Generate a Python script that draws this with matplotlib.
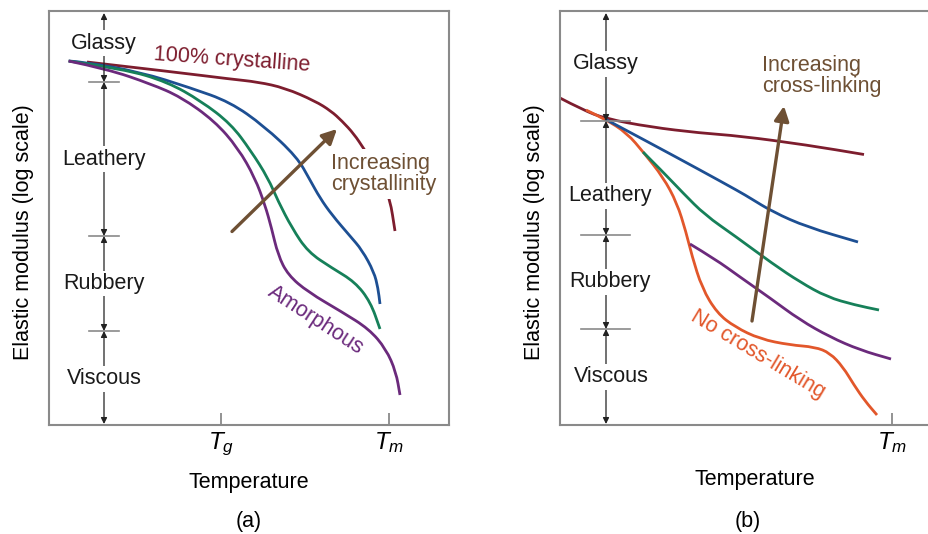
import matplotlib.pyplot as plt
from matplotlib.path import Path
from matplotlib.patches import PathPatch

plt.rcParams["font.family"] = ["Liberation Sans", "DejaVu Sans"]
plt.rcParams["mathtext.fontset"] = "custom"
plt.rcParams["mathtext.it"] = "Liberation Sans:italic"
plt.rcParams["mathtext.rm"] = "Liberation Sans"

# schematic curves, temperature / log-modulus in arbitrary units
# (a) crystallinity series, box is 400 x 414 units
a_cryst_t = [38, 125, 181, 209, 236, 266, 282, 293, 305, 315, 324, 333, 341, 346]
a_cryst_m = [363, 353, 346, 343, 337, 324, 314, 304, 291, 276, 262, 245, 226, 194]
a_blue_t = [20, 35, 91, 142, 181, 215, 248, 261, 271, 283, 301, 313, 325, 329, 331]
a_blue_m = [364, 363, 353, 337, 323, 299, 268, 245, 227, 210, 189, 175, 153, 137, 121]
a_green_t = [19.5, 75, 118.5, 152, 182, 202, 219, 229, 243, 259, 283, 306, 321.5, 331]
a_green_m = [364, 356, 343, 324, 301, 274, 247, 224, 197, 173, 157, 143, 123, 96]
a_amorph_t = [19.5, 58, 102, 132, 165.5, 189, 206, 216, 222.5, 229, 239, 259, 293, 320, 337, 347, 351]
a_amorph_m = [364, 356, 341, 328, 304, 277, 247, 220, 197, 170, 150, 133, 113, 96, 76, 53, 30]
a_ticks = [172, 340]
a_ticklabels = ["$T_g$", "$T_m$"]

# (b) cross-linking series
b_high_t = [0, 23, 45, 90, 140, 180, 247, 304]
b_high_m = [327, 315, 306.5, 298, 292, 289, 280, 270.5]
b_blue_t = [45, 90, 140, 180, 190, 213, 247, 298]
b_blue_m = [306, 282, 255, 233, 227, 213, 198, 183]
b_green_t = [83, 103, 123, 145, 175, 213, 240, 267, 295, 319]
b_green_m = [273, 253, 232, 210, 189, 161, 143, 128, 120, 115]
b_purple_t = [130, 155, 180, 210, 240, 270, 300, 331]
b_purple_m = [181, 166, 148, 127, 105, 88, 75, 66]
b_none_t = [26, 45, 67, 84, 103, 117, 126, 132, 142, 157, 175, 200, 230, 255, 270, 283, 294, 305, 317]
b_none_m = [315, 306, 292, 272, 248, 222, 193, 169, 137, 112, 98, 86, 80, 78, 72, 58, 40, 24, 10]
b_ticks = [332]
b_ticklabels = ["$T_m$"]

regions = ["Glassy", "Leathery", "Rubbery", "Viscous"]
a_bounds = [412, 343, 189, 94, 1]
b_bounds = [412, 304, 190, 96, 1]

RED = "#7d1d2e"
BLUE = "#1d4f93"
GREEN = "#168059"
PURPLE = "#6b2a7c"
ORANGE = "#e2572b"
BROWN = "#6e5034"
GREY = "#8a8a8a"
FS = 15.5

W, H = 929, 534
fig = plt.figure(figsize=(W / 100, H / 100), dpi=100)
ax_a = fig.add_axes([49 / W, 109 / H, 400 / W, 414 / H])
ax_b = fig.add_axes([560 / W, 109 / H, 390 / W, 414 / H])


def curve(ax, t, m, color):
    # quadratic Bezier through the midpoints -> smooth hand-drawn look
    pts = list(zip(t, m))
    verts = [pts[0]]
    codes = [Path.MOVETO]
    for i in range(1, len(pts) - 1):
        mid = ((pts[i][0] + pts[i + 1][0]) / 2, (pts[i][1] + pts[i + 1][1]) / 2)
        verts += [pts[i], mid]
        codes += [Path.CURVE3, Path.CURVE3]
    verts.append(pts[-1])
    codes.append(Path.LINETO)
    ax.add_patch(PathPatch(Path(verts, codes), fill=False, edgecolor=color,
                           lw=2, capstyle="butt"))


def frame(ax, xmax, ticks, labels):
    ax.set_xlim(0, xmax)
    ax.set_ylim(0, 414)
    for s in ax.spines.values():
        s.set_color(GREY)
        s.set_linewidth(1.5)
    ax.set_yticks([])
    ax.set_xticks(ticks)
    ax.set_xticklabels(labels, fontsize=FS + 2)
    ax.tick_params(axis="x", direction="in", length=9, width=1.3,
                   color=GREY, pad=4)
    ax.set_xlabel("Temperature", fontsize=FS, labelpad=10)
    ax.set_ylabel("Elastic modulus (log scale)", fontsize=FS)
    ax.yaxis.set_label_coords(-15 / xmax, 0.465)


def state_scale(ax, x, bounds, label_x, label_y, cross):
    for hi, lo in zip(bounds[:-1], bounds[1:]):
        ax.annotate("", xy=(x, lo), xytext=(x, hi),
                    arrowprops=dict(arrowstyle="<|-|>", color="#222222",
                                    lw=0.9, mutation_scale=9,
                                    shrinkA=0, shrinkB=0))
    for b in bounds[1:-1]:
        ax.plot(cross, [b, b], color=GREY, lw=1.2)
    for name, lx, ly in zip(regions, label_x, label_y):
        ax.text(lx, ly, name, fontsize=FS, ha="center", va="center",
                color="#1a1a1a",
                bbox=dict(facecolor="white", edgecolor="none", pad=1.5))


def trend(ax, tail, head):
    ax.annotate("", xy=head, xytext=tail,
                arrowprops=dict(arrowstyle="-|>", color=BROWN, lw=2.4,
                                mutation_scale=22, shrinkA=0, shrinkB=0))


# ---- (a)
frame(ax_a, 400, a_ticks, a_ticklabels)
curve(ax_a, a_cryst_t, a_cryst_m, RED)
curve(ax_a, a_blue_t, a_blue_m, BLUE)
curve(ax_a, a_green_t, a_green_m, GREEN)
curve(ax_a, a_amorph_t, a_amorph_m, PURPLE)
state_scale(ax_a, 55, a_bounds, [55, 55, 55, 55], [382, 266, 141.5, 46], [40, 70])
trend(ax_a, (183, 193.5), (288, 296))
ax_a.text(183, 365, "100% crystalline", color=RED, fontsize=FS,
          ha="center", va="center", rotation=-4)
ax_a.text(282, 251, "Increasing\ncrystallinity", color=BROWN, fontsize=FS,
          ha="left", va="center", linespacing=1.0,
          bbox=dict(facecolor="white", edgecolor="none", pad=3))
ax_a.text(267, 105, "Amorphous", color=PURPLE, fontsize=FS,
          ha="center", va="center", rotation=-33)

# ---- (b)
frame(ax_b, 390, b_ticks, b_ticklabels)
ax_b.spines["right"].set_visible(False)
curve(ax_b, b_high_t, b_high_m, RED)
curve(ax_b, b_none_t, b_none_m, ORANGE)
curve(ax_b, b_blue_t, b_blue_m, BLUE)
curve(ax_b, b_green_t, b_green_m, GREEN)
curve(ax_b, b_purple_t, b_purple_m, PURPLE)
state_scale(ax_b, 46, b_bounds, [46, 50, 50, 51], [361, 229, 143, 48], [21, 70])
trend(ax_b, (192, 104), (224, 319))
ax_b.text(202, 349, "Increasing\ncross-linking", color=BROWN, fontsize=FS,
          ha="left", va="center", linespacing=1.0)
ax_b.text(198, 71, "No cross-linking", color=ORANGE, fontsize=FS,
          ha="center", va="center", rotation=-31)

fig.text(249 / W, 1 - 522 / H, "(a)", fontsize=FS, ha="center", va="center")
fig.text(748 / W, 1 - 522 / H, "(b)", fontsize=FS, ha="center", va="center")

fig.savefig("out.png", dpi=100)
